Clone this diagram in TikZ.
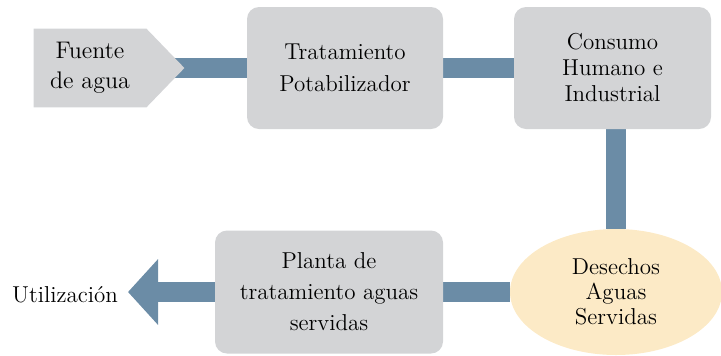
\documentclass[tikz,border=0pt]{standalone}
\usepackage{tikz}
\usetikzlibrary{positioning}
\usetikzlibrary{calc}
\usetikzlibrary{shapes.geometric}
\usetikzlibrary{arrows.meta}
\pgfdeclarelayer{flowbg}
\pgfsetlayers{flowbg,main}
\definecolor{boxgray}{HTML}{D3D4D6}
\definecolor{barblue}{HTML}{6B8CA6}
\definecolor{wastecream}{HTML}{FCEAC6}

\begin{document}
\begin{tikzpicture}[x=0.5pt,y=-0.5pt,
		font=\fontsize{11.5}{14}\selectfont,
		stagebox/.style={rectangle, rounded corners=6pt, fill=boxgray, align=center, inner sep=0pt},
		flowbar/.style={line width=10pt, barblue}]
		\useasboundingbox (0,0) rectangle (721,355);
		\node [stagebox, font=\fontsize{11.5}{16}\selectfont, minimum width=98pt, minimum height=61pt] at (345,68) (trat) {Tratamiento\\Potabilizador};
		\node [stagebox, font=\fontsize{11.5}{13}\selectfont, minimum width=98.5pt, minimum height=61pt] at (612.5,68) (consumo) {Consumo\\Humano e\\Industrial};
		\node [ellipse, fill=wastecream, inner sep=0pt, align=center, font=\fontsize{11.5}{12.5}\selectfont, minimum width=106pt, minimum height=63pt] at (616,292) (desechos) {Desechos\\Aguas\\Servidas};
		\node [stagebox, font=\fontsize{11.5}{15.5}\selectfont, minimum width=114pt, minimum height=61.5pt] at (329,292) (planta) {Planta de\\tratamiento aguas\\servidas};
		\node [align=center, inner sep=0pt, font=\fontsize{12}{15}\selectfont, minimum width=56pt, minimum height=39pt] at (90,68) (fuente) {Fuente\\de agua};
		\node [anchor=east] at (125,295) (util) {Utilizaci\'on};
		\coordinate (utiltip) at (128,292);
		\begin{pgfonlayer}{flowbg}
		\draw [flowbar] (fuente.east) -- (trat.west);
		\fill [boxgray] (fuente.north west) -- (fuente.north east) -- ([xshift=19pt]fuente.east) -- (fuente.south east) -- (fuente.south west) -- cycle;
		\draw [flowbar] (trat.east) -- (consumo.west);
		\draw [flowbar] (desechos.north |- consumo.south) -- (desechos.north);
		\draw [flowbar] (desechos.west) -- (planta.east);
		\draw [flowbar, -{Triangle[length=15pt,width=32pt]}] (planta.west) -- (utiltip);
		\end{pgfonlayer}
		
		\end{tikzpicture}
\end{document}
